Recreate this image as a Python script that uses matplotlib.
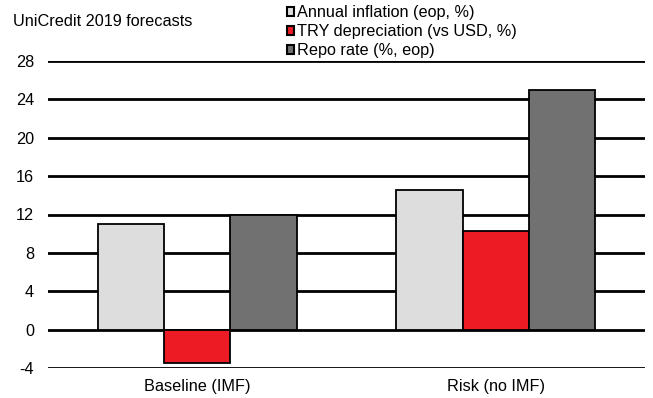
import numpy as np
import matplotlib.pyplot as plt
from matplotlib.patches import Patch

plt.rcParams['font.family'] = ['Liberation Sans', 'DejaVu Sans']

categories = ['Baseline (IMF)', 'Risk (no IMF)']
inflation = [11.0, 14.6]
try_depr = [-3.5, 10.3]
repo = [12.0, 25.0]
series_names = ['Annual inflation (eop, %)', 'TRY depreciation (vs USD, %)', 'Repo rate (%, eop)']
colors = ['#dddddd', '#ed1c24', '#717171']
yticks = np.arange(-4, 29, 4)

fs = 11.7
fig = plt.figure(figsize=(6.53, 3.98), dpi=100)
ax = fig.add_axes([48/653, 1 - 368/398, 597/653, 307/398])

x = np.arange(len(categories))
w = 0.222
for i, (vals, c) in enumerate(zip([inflation, try_depr, repo], colors)):
    ax.bar(x + (i - 1) * w, vals, w, color=c, edgecolor='black', linewidth=1.3, zorder=3)

ax.set_xlim(-0.5, 1.5)
ax.set_ylim(-4, 28)
ax.set_yticks(yticks)
ax.set_yticklabels([str(v) for v in yticks], fontsize=fs)
ax.set_xticks(x)
ax.set_xticklabels(categories, fontsize=fs)
ax.tick_params(axis='y', length=0, pad=10)
ax.tick_params(axis='x', length=0, pad=8)
for s in ax.spines.values():
    s.set_visible(False)
for v in yticks:
    ax.axhline(v, color='black', lw=2, zorder=2)

fig.text(13/653, 1 - 21/398, 'UniCredit 2019 forecasts', fontsize=fs, va='center')
handles = [Patch(facecolor=c, edgecolor='black', linewidth=1.5) for c in colors]
fig.legend(handles, series_names, loc='upper left', bbox_to_anchor=(287/653, 1 - 5/398),
           frameon=False, fontsize=fs, handlelength=0.45, handleheight=0.45,
           handletextpad=0.15, labelspacing=0.25, borderpad=0, borderaxespad=0)

fig.savefig('out.png', dpi=100)
